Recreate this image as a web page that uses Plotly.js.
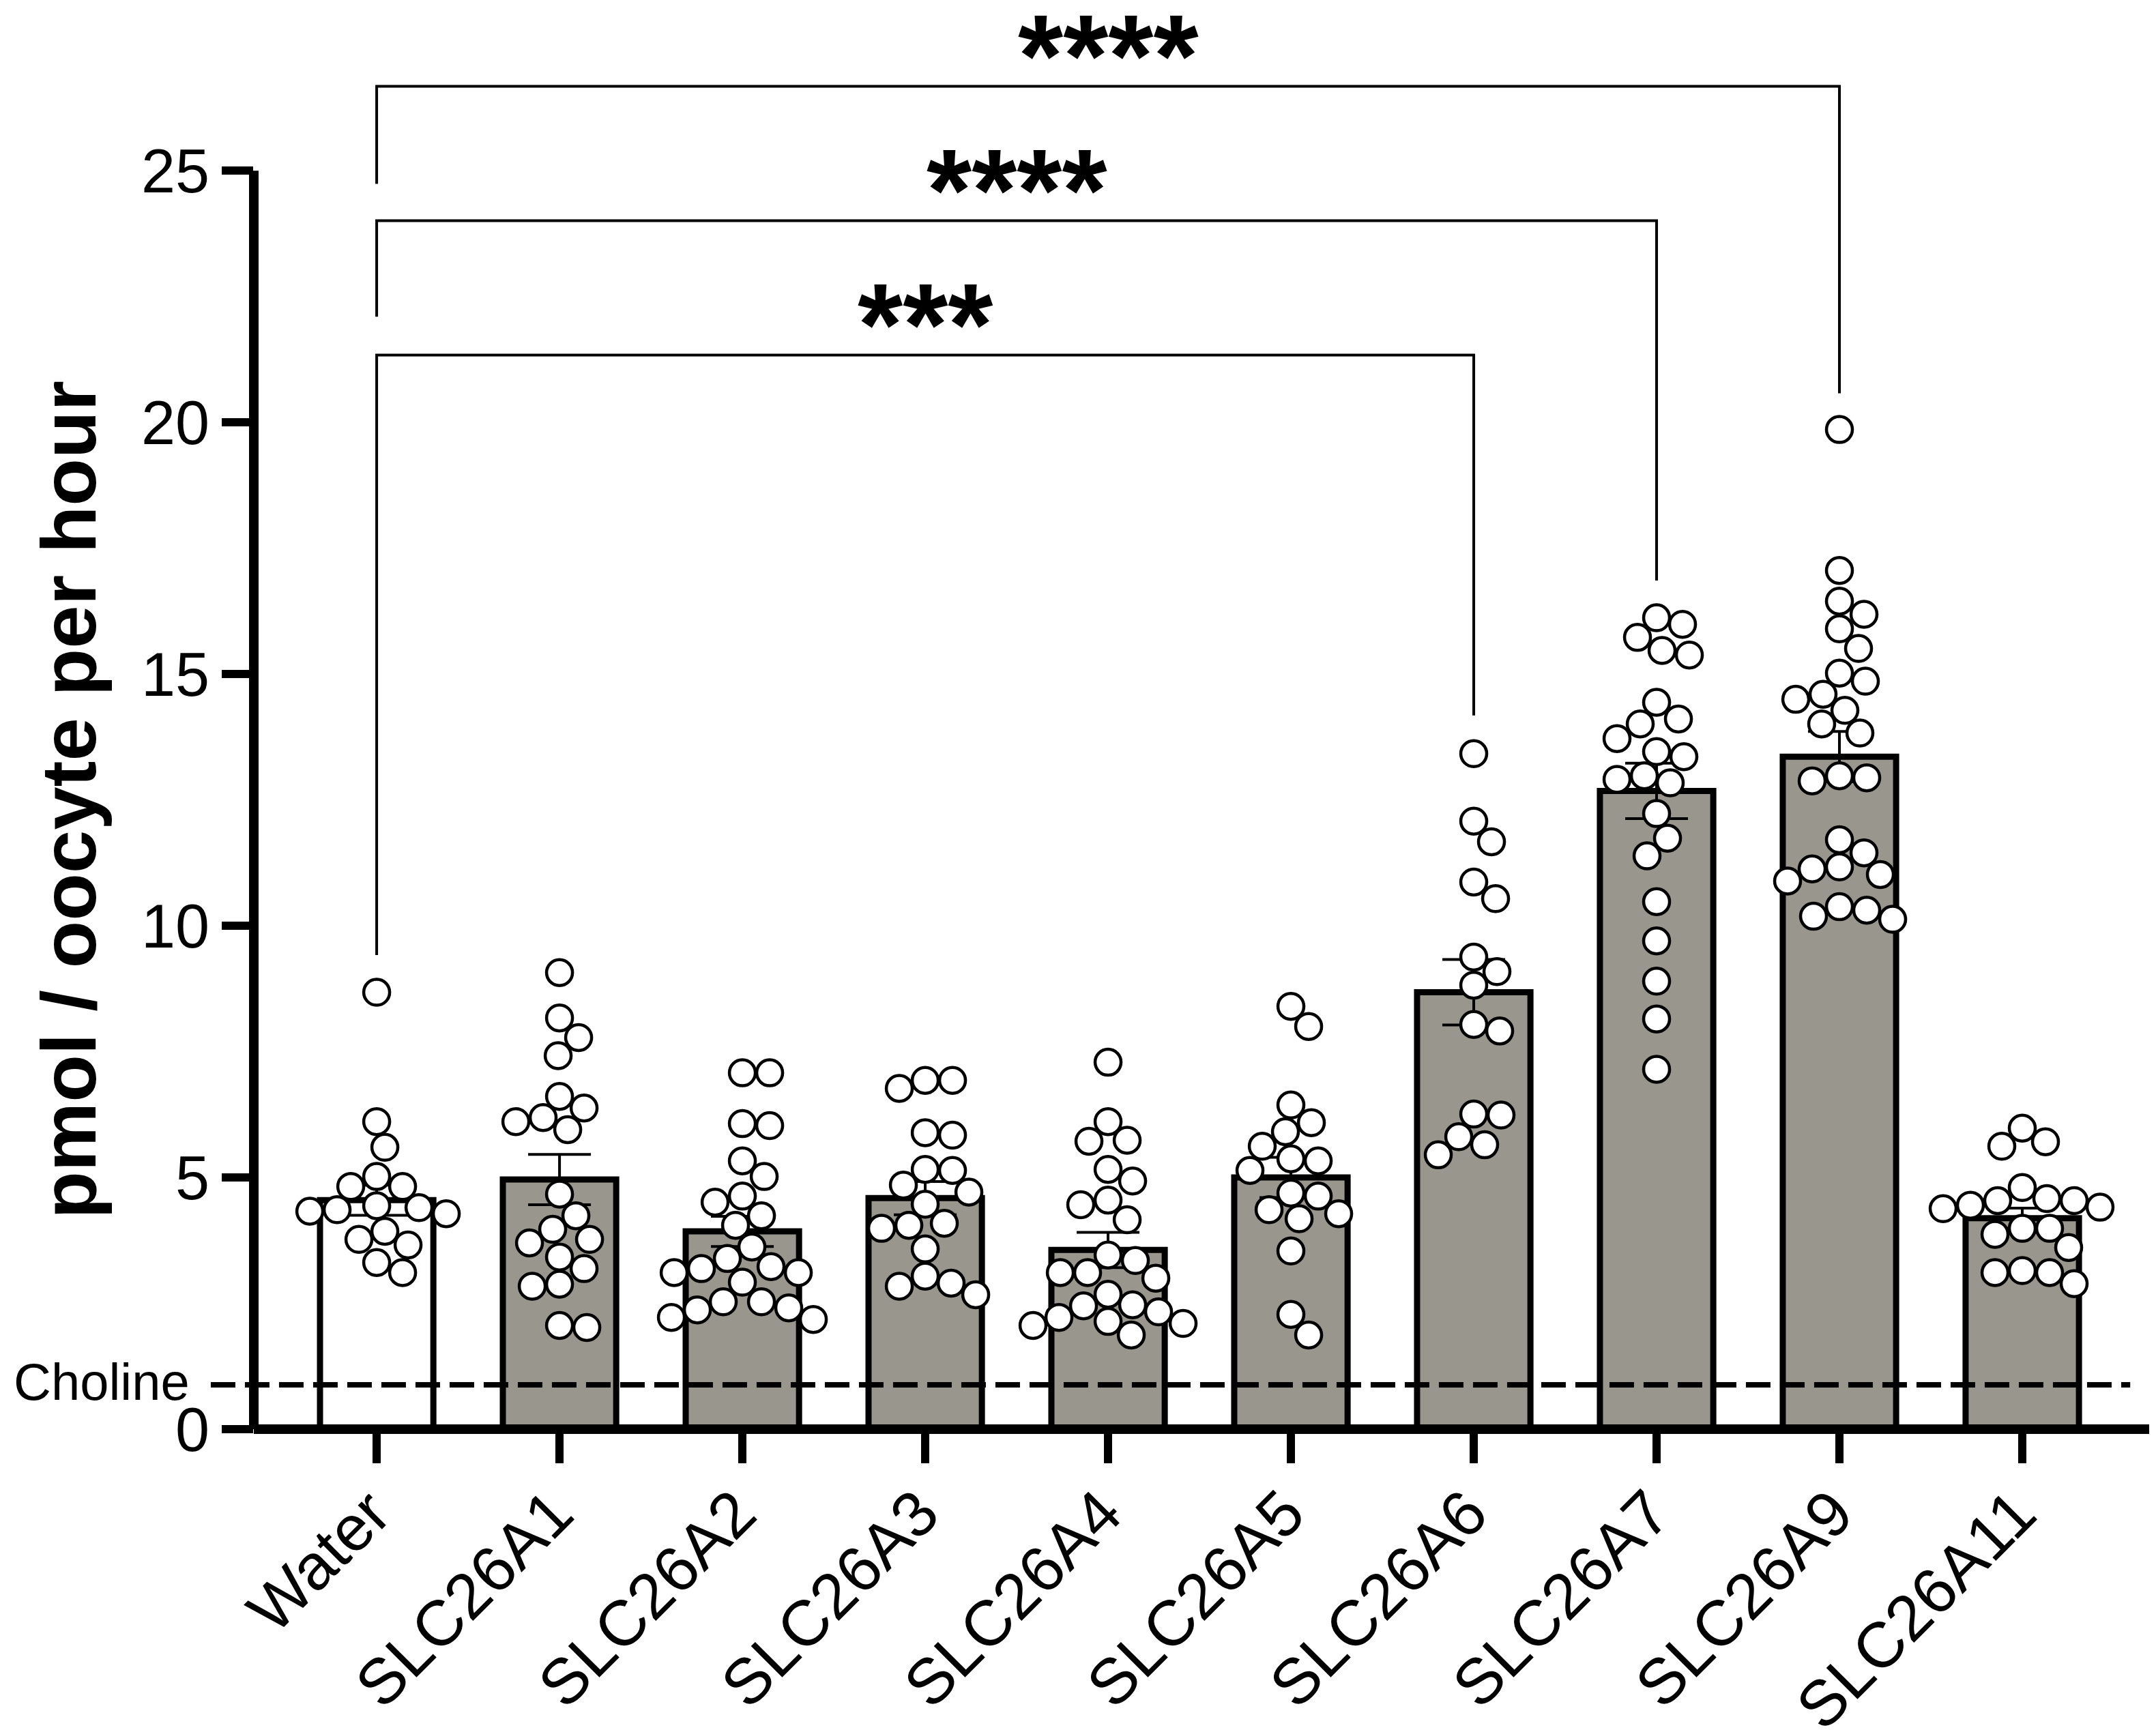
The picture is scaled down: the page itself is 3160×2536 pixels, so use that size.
<!DOCTYPE html>
<html>
<head>
<meta charset="utf-8">
<script src="https://cdn.plot.ly/plotly-3.0.1.min.js"></script>
<style>
  html, body { margin: 0; padding: 0; background: #fff; }
  #chart { width: 3160px; height: 2536px; }
</style>
</head>
<body>
<div id="chart"></div>
<script>
// groups on the x axis
var groups = ['Water', 'SLC26A1', 'SLC26A2', 'SLC26A3', 'SLC26A4',
              'SLC26A5', 'SLC26A6', 'SLC26A7', 'SLC26A9', 'SLC26A11'];

// bar heights (mean) and error bars (SEM), pmol / oocyte per hour
var means = [4.55, 4.96, 3.93, 4.59, 3.56, 5.00, 8.68, 12.68, 13.36, 4.19];
var sems  = [0.30, 0.50, 0.30, 0.33, 0.35, 0.40, 0.65, 0.55, 0.50, 0.20];

// single oocytes, one array per group
var waterVals = [8.68, 6.11, 5.60, 5.02, 4.82, 4.82, 4.44, 4.40, 4.36, 4.33, 4.28, 3.93, 3.77, 3.66, 3.31, 3.11];
var a1Vals  = [9.07, 8.17, 7.78, 7.42, 6.61, 6.38, 6.19, 6.11, 5.95, 4.67, 4.24, 3.97, 3.77, 3.70, 3.42, 3.19, 2.88, 2.84, 2.06, 2.02];
var a2Vals  = [7.08, 7.08, 6.07, 6.03, 5.33, 5.02, 4.63, 4.51, 4.24, 4.05, 3.62, 3.39, 3.23, 3.19, 3.11, 3.11, 2.92, 2.53, 2.53, 2.41, 2.37, 2.22, 2.18];
var a3Vals  = [6.93, 6.93, 6.77, 5.89, 5.84, 5.16, 5.14, 4.85, 4.71, 4.47, 4.09, 4.05, 3.99, 3.58, 3.04, 2.90, 2.84, 2.67];
var a4Vals  = [7.29, 6.11, 5.74, 5.72, 5.16, 4.93, 4.55, 4.46, 4.16, 3.46, 3.35, 3.11, 3.11, 3.00, 2.68, 2.47, 2.45, 2.33, 2.22, 2.14, 2.10, 2.06, 1.87];
var a5Vals  = [8.40, 8.00, 6.44, 6.09, 5.91, 5.62, 5.37, 5.33, 5.14, 4.69, 4.63, 4.36, 4.28, 4.18, 3.54, 2.28, 1.87];
var a6Vals  = [13.42, 12.08, 11.67, 10.87, 10.54, 9.38, 9.09, 8.82, 8.04, 7.91, 6.26, 6.24, 5.81, 5.65, 5.45];
var a7Vals  = [16.12, 15.99, 15.73, 15.47, 15.38, 14.44, 14.11, 14.01, 13.72, 13.46, 13.36, 12.98, 12.91, 12.84, 12.23, 11.74, 11.39, 10.48, 9.70, 8.90, 8.15, 7.15];
var a9Vals  = [19.86, 17.06, 16.45, 16.19, 15.90, 15.51, 15.02, 14.86, 14.60, 14.50, 14.28, 14.01, 13.83, 12.98, 12.94, 12.88, 11.71, 11.45, 11.17, 11.13, 11.02, 10.89, 10.38, 10.31, 10.19, 10.13];
var a11Vals = [5.98, 5.71, 5.62, 4.80, 4.58, 4.54, 4.54, 4.45, 4.41, 4.38, 3.99, 3.99, 3.87, 3.61, 3.15, 3.11, 3.11, 2.89];
var pointSets = [waterVals, a1Vals, a2Vals, a3Vals, a4Vals, a5Vals, a6Vals, a7Vals, a9Vals, a11Vals];

// choline background level (dashed line)
var cholineLevel = 0.88;

// significance brackets, all against Water
var sigTargets   = ['SLC26A6', 'SLC26A7', 'SLC26A9'];
var sigLevels    = [21.34, 24.01, 26.68];
var sigLeftEnds  = [9.42, 22.10, 24.74];
var sigRightEnds = [14.18, 16.86, 20.58];
var sigLabels    = ['***', '****', '****'];

var yTicks = [0, 5, 10, 15, 20, 25];
var yTitle = 'pmol / oocyte per hour';

// ---- layout numbers
var W = 3160, H = 2536;
var M = {l: 372, r: 10, t: 29, b: 441};
var xRange = [-0.672, 9.694];
var yRange = [0, 28];
var FONT = 'Liberation Sans, Arial, Helvetica, sans-serif';
var GREY = '#99968e';
var DOT = 38, DOT_LINE = 4.5;

var pxPerX = (W - M.l - M.r) / (xRange[1] - xRange[0]);
var pxPerY = (H - M.t - M.b) / (yRange[1] - yRange[0]);

// simple deterministic beeswarm: highest value first, nearest free slot to the centre
function swarm(vals) {
  var order = vals.map(function(v, i) { return i; })
                  .sort(function(a, b) { return vals[b] - vals[a]; });
  var placed = [], off = [];
  var minD = (DOT + DOT_LINE) * 0.92, step = 2;
  order.forEach(function(i) {
    var y = vals[i] * pxPerY;
    for (var k = 0; k < 400; k++) {
      var dx = Math.ceil(k / 2) * step * (k % 2 ? 1 : -1);
      var ok = placed.every(function(p) {
        return (p.x - dx) * (p.x - dx) + (p.y - y) * (p.y - y) >= minD * minD;
      });
      if (ok) { placed.push({x: dx, y: y}); off[i] = dx / pxPerX; break; }
    }
  });
  return off;
}

var px = [], py = [];
pointSets.forEach(function(vals, g) {
  var off = swarm(vals);
  vals.forEach(function(v, i) { px.push(g + off[i]); py.push(v); });
});

var idx = groups.map(function(g, i) { return i; });

var bars = {
  type: 'bar',
  x: idx,
  y: means,
  width: 0.62,
  marker: {
    color: groups.map(function(g) { return g === 'Water' ? '#ffffff' : GREY; }),
    line: {color: '#000', width: 9}
  },
  error_y: {type: 'data', array: sems, visible: true, color: '#000', thickness: 4, width: 46},
  hoverinfo: 'skip',
  showlegend: false
};

var dots = {
  type: 'scatter',
  mode: 'markers',
  x: px,
  y: py,
  marker: {size: DOT, color: '#fff', line: {color: '#000', width: DOT_LINE}},
  cliponaxis: false,
  hoverinfo: 'y',
  showlegend: false
};

var shapes = [
  // axes drawn by hand so the y line stops at 25
  {type: 'line', xref: 'paper', yref: 'paper', x0: 0, x1: 1, y0: 0, y1: 0,
   line: {color: '#000', width: 14}},
  {type: 'line', xref: 'paper', yref: 'y', x0: 0, x1: 0, y0: 0, y1: 25,
   line: {color: '#000', width: 14}},
  // choline level
  {type: 'line', xref: 'paper', yref: 'y', x0: -0.0227, x1: 0.990,
   y0: cholineLevel, y1: cholineLevel,
   line: {color: '#000', width: 8, dash: '36px,14px'}}
];

var annotations = [
  {xref: 'paper', yref: 'y', x: -0.0331, y: cholineLevel, xanchor: 'right', yanchor: 'middle',
   yshift: 5, text: 'Choline', showarrow: false, font: {family: FONT, size: 76, color: '#000'}},
  // y title as an annotation so it centres on the 0-25 axis, not the whole plot area
  {xref: 'paper', yref: 'y', x: -0.0975, y: 12.5, xanchor: 'center', yanchor: 'middle',
   textangle: -90, text: '<b>' + yTitle + '</b>', showarrow: false,
   font: {family: FONT, size: 114, color: '#000'}}
];

sigTargets.forEach(function(t, i) {
  var x0 = groups.indexOf('Water'), x1 = groups.indexOf(t);
  shapes.push({
    type: 'path', xref: 'x', yref: 'y',
    path: 'M ' + x0 + ',' + sigLeftEnds[i] + ' L ' + x0 + ',' + sigLevels[i] +
          ' L ' + x1 + ',' + sigLevels[i] + ' L ' + x1 + ',' + sigRightEnds[i],
    line: {color: '#000', width: 4}
  });
  annotations.push({
    xref: 'x', yref: 'y', x: (x0 + x1) / 2, y: sigLevels[i],
    xanchor: 'center', yanchor: 'bottom', yshift: -53,
    text: '<b>' + sigLabels[i] + '</b>', showarrow: false,
    font: {family: FONT, size: 170, color: '#000'}
  });
});

var layout = {
  width: W, height: H,
  margin: M,
  paper_bgcolor: '#fff', plot_bgcolor: '#fff',
  font: {family: FONT, color: '#000'},
  bargap: 0,
  xaxis: {
    range: xRange, tickvals: idx, ticktext: groups, tickangle: -45,
    ticks: 'outside', ticklen: 49, tickwidth: 12, tickcolor: '#000',
    ticklabelstandoff: -20, ticklabelshift: -8,
    showline: false, showgrid: false, zeroline: false,
    tickfont: {family: FONT, size: 94, color: '#000'}
  },
  yaxis: {
    range: yRange, tickvals: yTicks,
    ticks: 'outside', ticklen: 46, tickwidth: 12, tickcolor: '#000',
    showline: false, showgrid: false, zeroline: false,
    tickfont: {family: FONT, size: 90, color: '#000'}
  },
  shapes: shapes,
  annotations: annotations
};

Plotly.newPlot('chart', [bars, dots], layout, {displayModeBar: false, staticPlot: true});
</script>
</body>
</html>
